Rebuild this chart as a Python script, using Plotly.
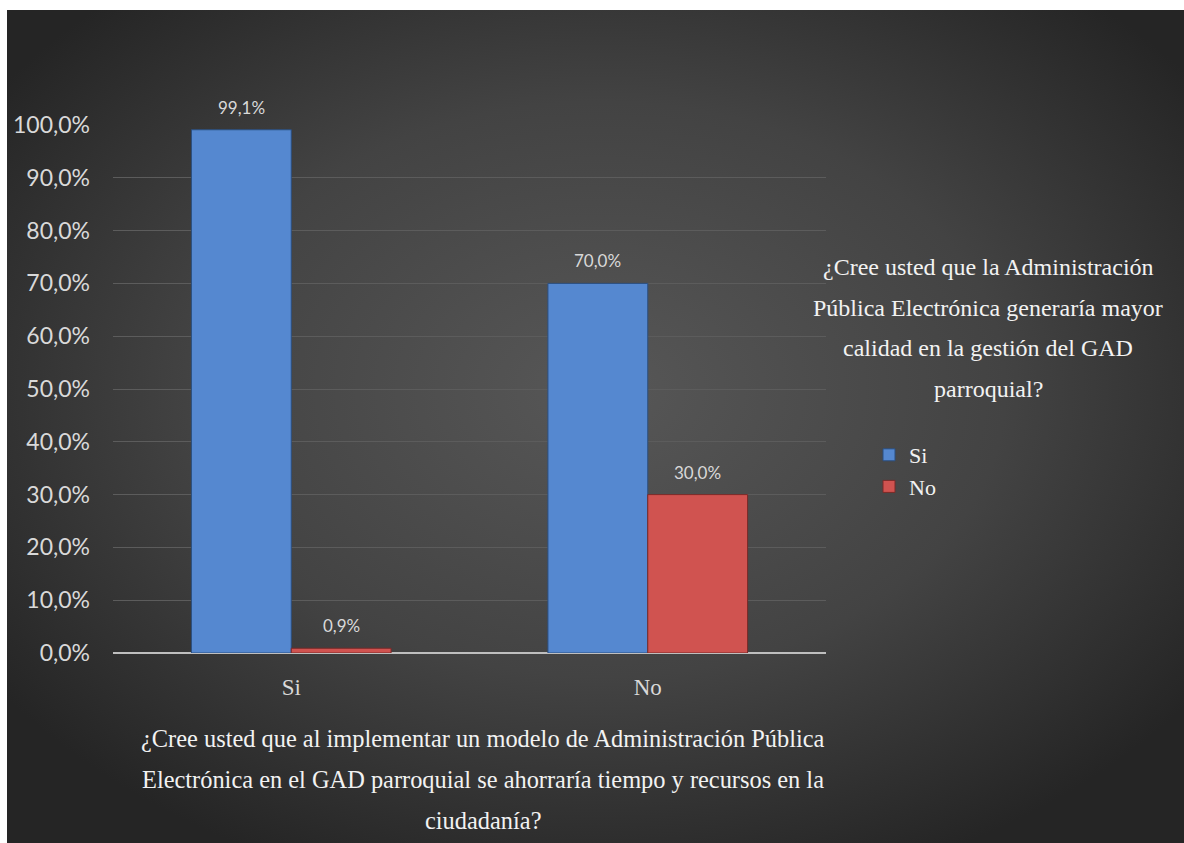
import plotly.graph_objects as go
import base64

categories = ["Si", "No"]
series_names = ["Si", "No"]
si_values = [0.991, 0.700]
no_values = [0.009, 0.300]
y_ticks = [0, 0.1, 0.2, 0.3, 0.4, 0.5, 0.6, 0.7, 0.8, 0.9, 1.0]
x_title_lines = [
    "¿Cree usted que al implementar un modelo de Administración Pública",
    "Electrónica en el GAD parroquial se ahorraría tiempo y recursos en la",
    "ciudadanía?",
]
legend_title_lines = [
    "¿Cree usted que la Administración",
    "Pública Electrónica generaría mayor",
    "calidad en la gestión del GAD",
    "parroquial?",
]

W, H = 1184, 843
L, T = 113, 125
R = W - 826
B = H - 653
pw, ph = W - L - R, H - T - B

BX, BY = 7, 10  # white border of the original picture
bw, bh = W - BX + 10, H - BY + 10
svg = (
    f'<svg xmlns="http://www.w3.org/2000/svg" width="{bw}" height="{bh}" '
    f'viewBox="0 0 {bw} {bh}" preserveAspectRatio="none">'
    '<defs><radialGradient id="g" cx="50%" cy="45%" r="62%">'
    '<stop offset="0%" stop-color="#575757"/>'
    '<stop offset="55%" stop-color="#434343"/>'
    '<stop offset="100%" stop-color="#252525"/>'
    '</radialGradient></defs>'
    f'<rect width="{bw}" height="{bh}" fill="url(#g)"/></svg>'
)
src = "data:image/svg+xml;base64," + base64.b64encode(svg.encode()).decode()


def px_x(p):
    return (p - L) / pw


def px_y(p):
    return (H - B - p) / ph


def fmt(v):
    return f"{v * 100:.1f}%".replace(".", ",")


fig = go.Figure()
fig.add_trace(go.Bar(
    name=series_names[0], x=categories, y=si_values,
    marker=dict(color="#5588d0", line=dict(color="#2b4f80", width=1)),
))
fig.add_trace(go.Bar(
    name=series_names[1], x=categories, y=no_values,
    marker=dict(color="#d05350", line=dict(color="#7a2a28", width=1)),
))

annotations = []
for vals, shift in ((si_values, -50), (no_values, 50)):
    for cat, v in zip(categories, vals):
        annotations.append(dict(
            text=fmt(v), xref="x", yref="y", x=cat, y=v, xshift=shift, yshift=10,
            xanchor="center", yanchor="bottom", showarrow=False,
            font=dict(family="Lato", size=17, color="#d9d9d9"),
        ))
for i, line in enumerate(x_title_lines):
    annotations.append(dict(
        text=line, xref="paper", yref="paper", x=px_x(483), y=px_y(738 + 41 * i),
        xanchor="center", yanchor="middle", showarrow=False,
        font=dict(family="Liberation Serif", size=24.4, color="#f2f2f2"),
    ))
for i, line in enumerate(legend_title_lines):
    annotations.append(dict(
        text=line, xref="paper", yref="paper", x=px_x(988), y=px_y(267 + 40.7 * i),
        xanchor="center", yanchor="middle", showarrow=False,
        font=dict(family="Liberation Serif", size=24, color="#f2f2f2"),
    ))

fig.update_layout(
    width=W, height=H,
    margin=dict(l=L, r=R, t=T, b=B),
    paper_bgcolor="white",
    plot_bgcolor="rgba(0,0,0,0)",
    separators=",.",
    barmode="group",
    bargap=0.44,
    bargroupgap=0,
    showlegend=True,
    legend=dict(
        x=px_x(869), y=px_y(434), xanchor="left", yanchor="top",
        bgcolor="rgba(0,0,0,0)",
        font=dict(family="Liberation Serif", size=22, color="#f2f2f2"),
        itemwidth=30, tracegroupgap=0,
    ),
    images=[dict(
        source=src, xref="paper", yref="paper",
        x=px_x(BX), y=px_y(BY), sizex=bw / pw, sizey=bh / ph,
        xanchor="left", yanchor="top", sizing="stretch", layer="below",
    )],
    annotations=annotations,
    xaxis=dict(
        showgrid=False, showline=False, ticks="",
        tickfont=dict(family="Liberation Serif", size=23, color="#d9d9d9"),
        ticklabelstandoff=18,
    ),
    yaxis=dict(
        range=[0, 1], tickvals=y_ticks, tickformat=".1%",
        showgrid=True, gridcolor="#5c5c5c", gridwidth=1,
        zeroline=True, zerolinecolor="#bfbfbf", zerolinewidth=2,
        showline=False, ticks="",
        tickfont=dict(family="Lato", size=23, color="#d9d9d9"),
        ticklabelstandoff=22,
    ),
)

fig.write_html(
    "out.html",
    config={"displayModeBar": False},
    post_script="document.body.style.margin='0';document.body.style.overflow='hidden';",
)
